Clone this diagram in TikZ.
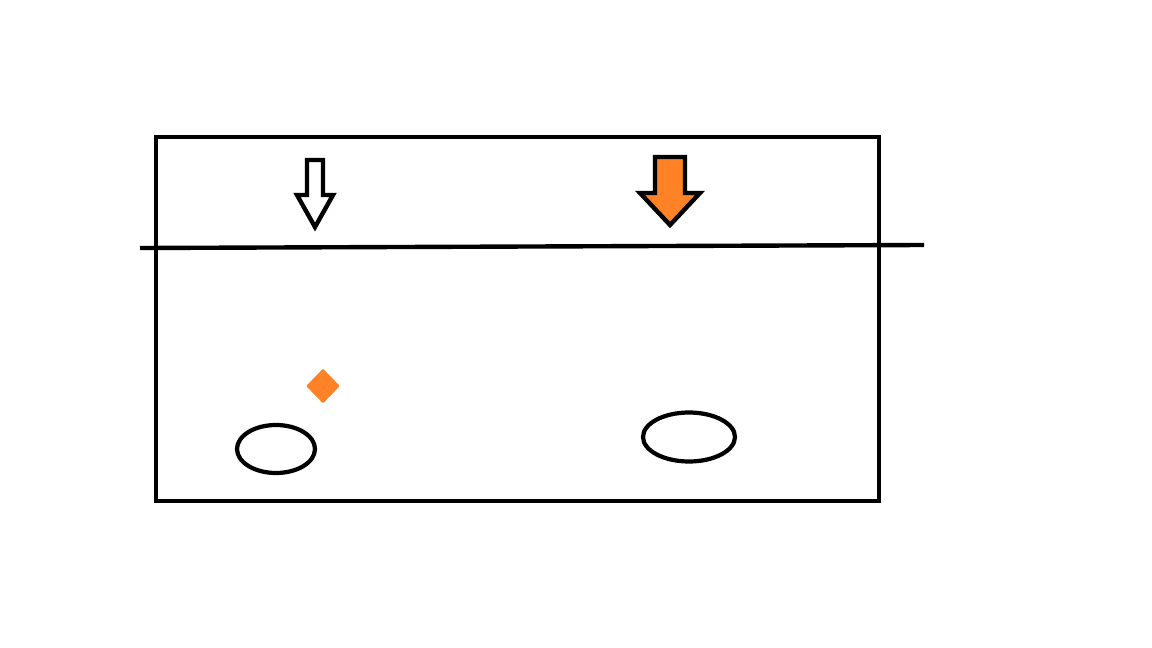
\documentclass[tikz,border=0pt]{standalone}
\usepackage{xcolor}
\usetikzlibrary{shapes.geometric}
\definecolor{flameorange}{RGB}{255,131,38}

\begin{document}
\begin{tikzpicture}[
  x=0.02cm, y=-0.02cm,
  outline/.style={draw=black, line width=2.5pt, line join=miter},
  hole/.style={ellipse, draw=black, line width=2.4pt, inner sep=0pt},
  marker/.style={diamond, fill=flameorange, rounded corners=0.5pt, minimum width=0.68cm, minimum height=0.7cm, inner sep=0pt}
]
\useasboundingbox (0,0) rectangle (1152,648);
% tank and the surface line
\draw[outline] (156,137) rectangle (879,501);
\coordinate (surfL) at (140,248);
\coordinate (surfR) at (924,245);
\draw[outline] (surfL) -- (surfR);
% the two downward arrows
\draw[outline, fill=white] (307,160) -- (323,160) -- (323,195) -- (333,195) -- (315,227) -- (297,195) -- (307,195) -- cycle;
\draw[outline, fill=flameorange] (655,157) -- (685,157) -- (685,193) -- (700,193) -- (670,225) -- (640,193) -- (655,193) -- cycle;
% diamond and the two openings
\node[marker] (spot) at (323,386) {};
\node[hole, minimum width=1.56cm, minimum height=0.96cm] (leftHole) at (276,449) {};
\node[hole, minimum width=1.84cm, minimum height=0.98cm] (rightHole) at (689,437) {};
\end{tikzpicture}
\end{document}
